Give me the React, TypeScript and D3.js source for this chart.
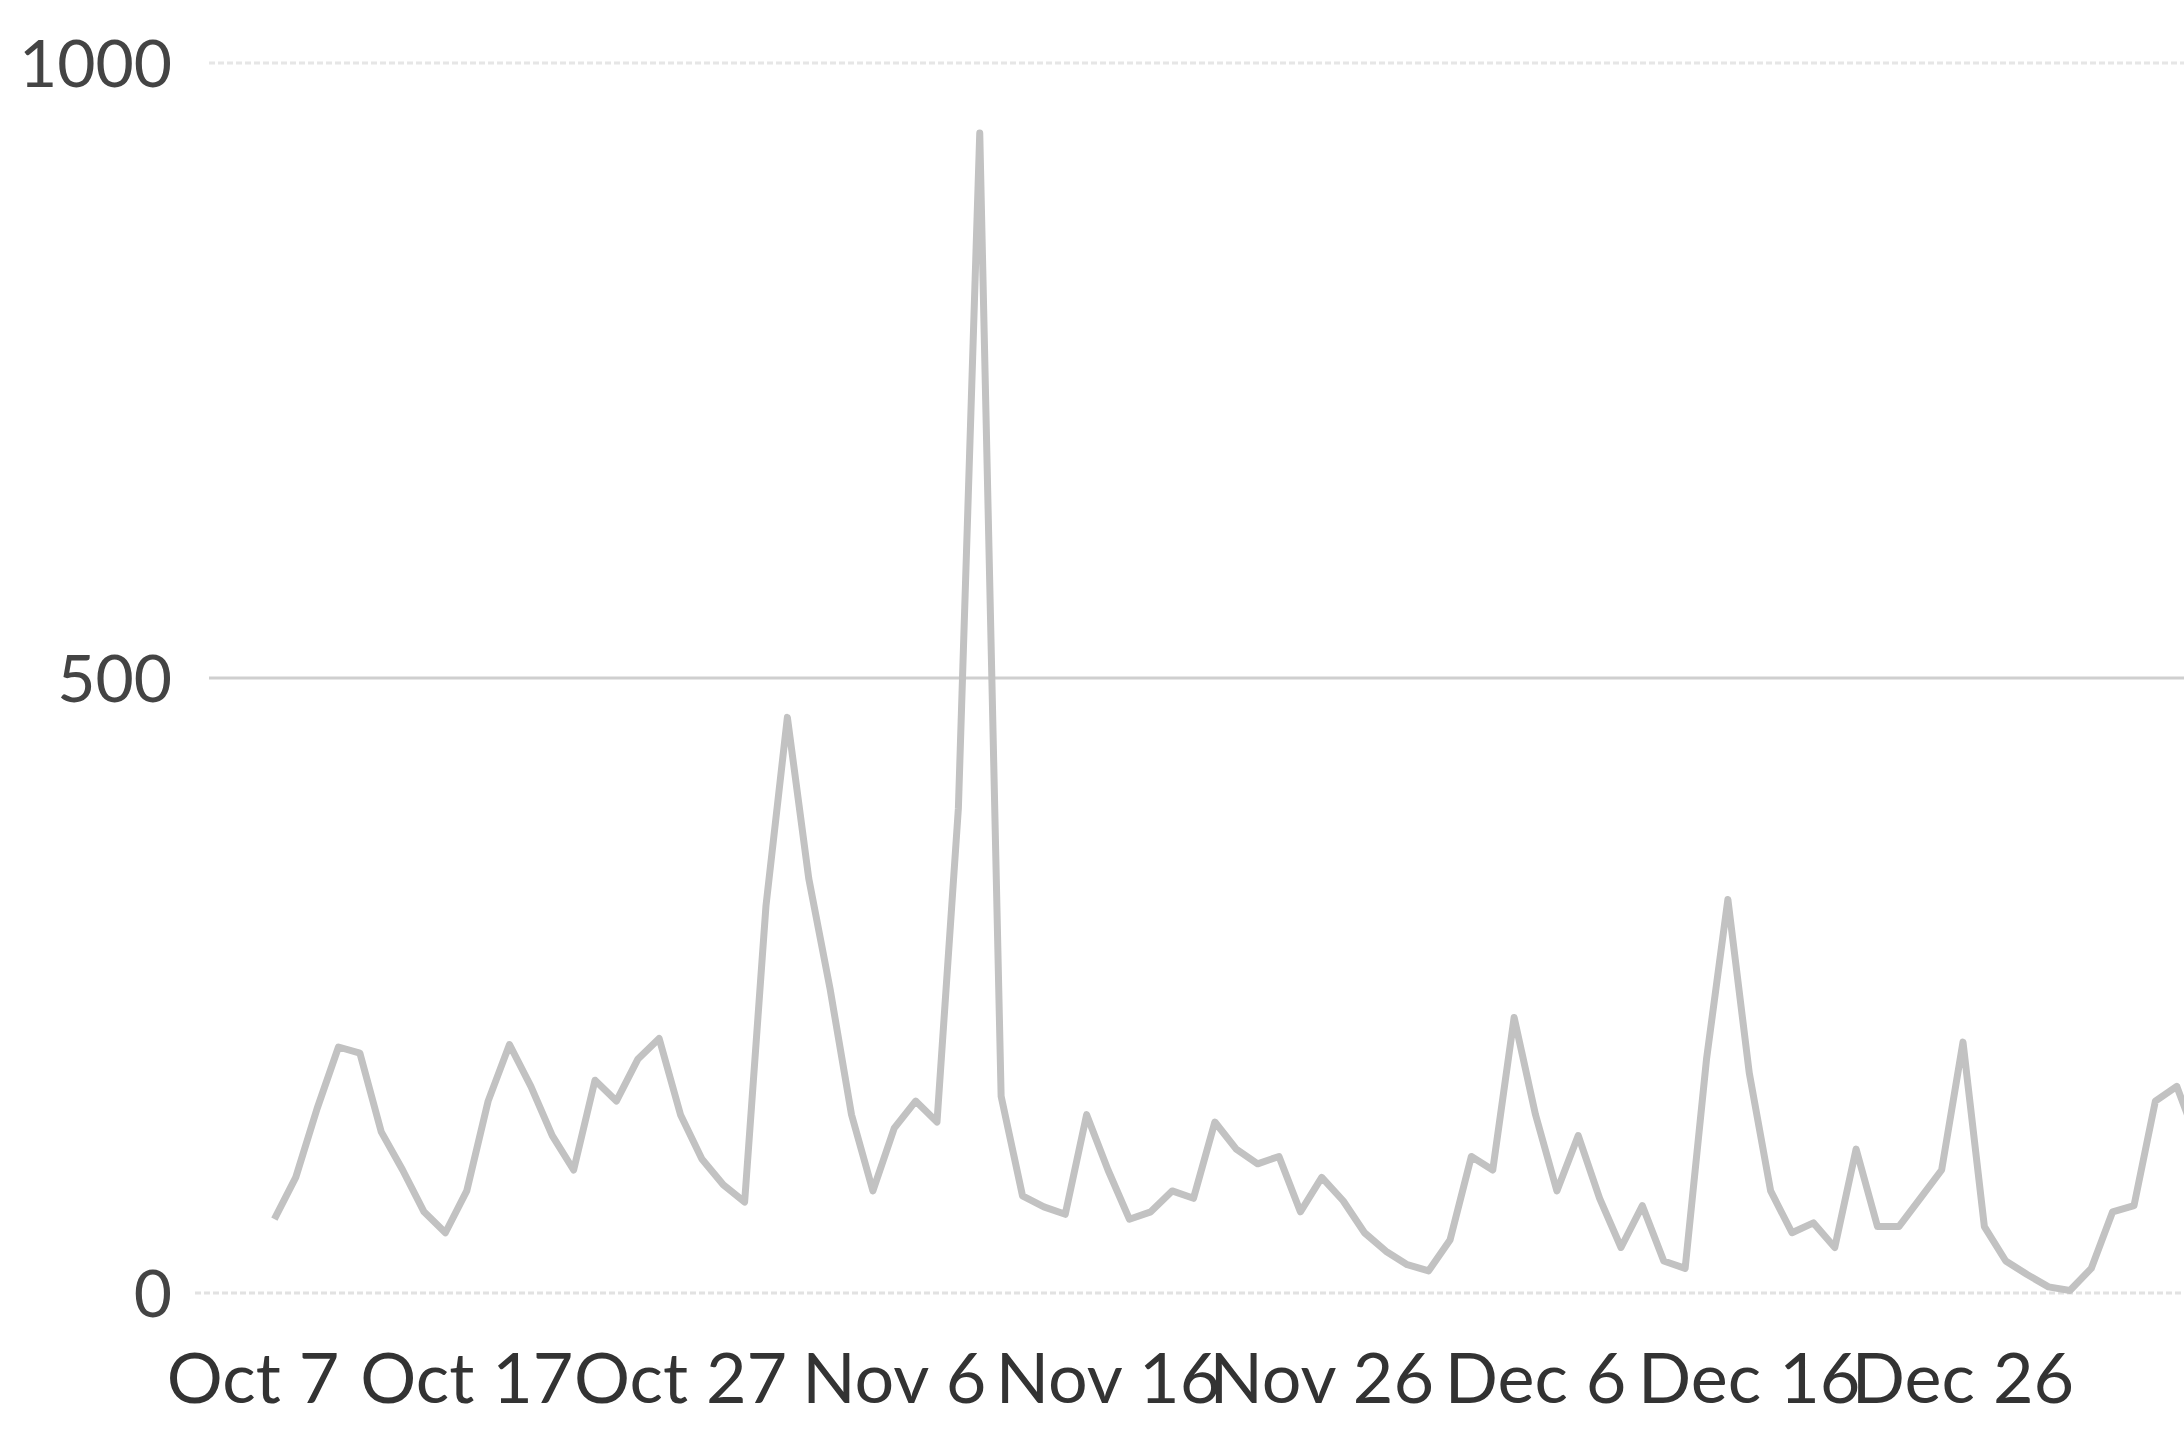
import React, { useEffect, useRef } from "react";
import * as d3 from "d3";

const WIDTH = 2184;
const HEIGHT = 1445;

// Daily values starting Oct 8
const startDate = new Date(2023, 9, 8);
const values = [
  60, 94, 150, 200, 195, 131, 100, 66, 49, 83,
  156, 202, 168, 128, 100, 173, 156, 190, 207, 145,
  109, 88, 74, 315, 468, 337, 247, 145, 83, 134,
  156, 139, 394, 943, 160, 79, 70, 64, 145, 100,
  60, 66, 83, 77, 139, 117, 105, 111, 66, 94,
  75, 49, 34, 23, 18, 43, 111, 100, 224, 145,
  83, 128, 77, 37, 71, 26, 20, 190, 320, 179,
  83, 49, 57, 37, 117, 54, 54, 77, 100, 204,
  54, 26, 15, 5, 2, 20, 66, 71, 156, 168, 122,
];

const tickDates = [
  new Date(2023, 9, 7),
  new Date(2023, 9, 17),
  new Date(2023, 9, 27),
  new Date(2023, 10, 6),
  new Date(2023, 10, 16),
  new Date(2023, 10, 26),
  new Date(2023, 11, 6),
  new Date(2023, 11, 16),
  new Date(2023, 11, 26),
];
const yTicks = [0, 500, 1000];

export default function App() {
  const ref = useRef<SVGSVGElement | null>(null);

  useEffect(() => {
    const svg = d3.select(ref.current);
    svg.selectAll("*").remove();

    const data = values.map((v, i) => ({
      date: d3.timeDay.offset(startDate, i),
      value: v,
    }));

    const x = d3
      .scaleTime()
      .domain([tickDates[0], tickDates[tickDates.length - 1]])
      .range([253, 1963]);
    const y = d3.scaleLinear().domain([0, 1000]).range([1293, 63]);

    // gridlines
    const gridColors: Record<number, string> = { 0: "#e2e2e2", 500: "#cfcfcf", 1000: "#e6e6e6" };
    const gridStart: Record<number, number> = { 0: 195, 500: 209, 1000: 209 };
    svg
      .append("g")
      .selectAll("line")
      .data(yTicks)
      .join("line")
      .attr("x1", (d) => gridStart[d])
      .attr("x2", WIDTH)
      .attr("y1", (d) => y(d))
      .attr("y2", (d) => y(d))
      .attr("stroke", (d) => gridColors[d])
      .attr("stroke-width", 3)
      .attr("stroke-dasharray", (d) => (d === 500 ? null : "6,3"));

    // y labels
    svg
      .append("g")
      .selectAll("text")
      .data(yTicks)
      .join("text")
      .attr("x", 172)
      .attr("y", (d) => y(d))
      .attr("dy", "0.36em")
      .attr("text-anchor", "end")
      .attr("font-family", "Lato, 'Open Sans', sans-serif")
      .attr("font-size", 66)
      .attr("fill", "#444")
      .text((d) => String(d));

    // x labels
    const fmt = d3.timeFormat("%b %-d");
    svg
      .append("g")
      .selectAll("text")
      .data(tickDates)
      .join("text")
      .attr("x", (d) => x(d))
      .attr("y", 1403)
      .attr("text-anchor", "middle")
      .attr("font-family", "Lato, 'Open Sans', sans-serif")
      .attr("font-size", 70)
      .attr("fill", "#333")
      .text((d) => fmt(d));

    // line
    const line = d3
      .line<{ date: Date; value: number }>()
      .x((d) => x(d.date))
      .y((d) => y(d.value));

    svg
      .append("path")
      .datum(data)
      .attr("fill", "none")
      .attr("stroke", "#c2c2c2")
      .attr("stroke-width", 7)
      .attr("stroke-linejoin", "round")
      .attr("d", line);
  }, []);

  return (
    <svg
      ref={ref}
      width={WIDTH}
      height={HEIGHT}
      style={{ position: "absolute", left: 0, top: 0, background: "#fff" }}
    />
  );
}
